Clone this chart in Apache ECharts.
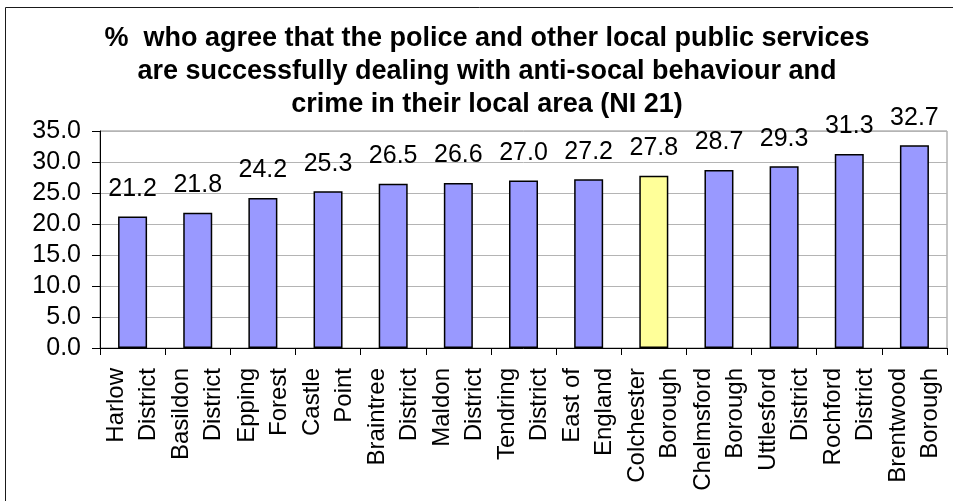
<!DOCTYPE html>
<html>
<head>
<meta charset="utf-8">
<script src="https://cdn.jsdelivr.net/npm/echarts@6/dist/echarts.min.js"></script>
<style>
  html, body { margin: 0; padding: 0; background: #fff; }
  #chart { width: 953px; height: 501px; }
</style>
</head>
<body>
<div id="chart"></div>
<script>
// Areas, ordered by score
const categories = [
  'Harlow\nDistrict', 'Basildon\nDistrict', 'Epping\nForest', 'Castle\nPoint',
  'Braintree\nDistrict', 'Maldon\nDistrict', 'Tendring\nDistrict', 'East of\nEngland',
  'Colchester\nBorough', 'Chelmsford\nBorough', 'Uttlesford\nDistrict',
  'Rochford\nDistrict', 'Brentwood\nBorough'
];
// % who agree (NI 21)
const values = [21.2, 21.8, 24.2, 25.3, 26.5, 26.6, 27.0, 27.2, 27.8, 28.7, 29.3, 31.3, 32.7];
// Area shown in the highlight colour
const highlighted = ['Colchester\nBorough'];
// Value axis ticks
const yTicks = [0, 5, 10, 15, 20, 25, 30, 35];

const titleText = '%  who agree that the police and other local public services\n' +
  'are successfully dealing with anti-socal behaviour and\n' +
  'crime in their local area (NI 21)';

const FONT = '"Liberation Sans", Arial, sans-serif';
const BAR = '#9999ff';
const HIGHLIGHT = '#ffff99';

const chart = echarts.init(document.getElementById('chart'), null, { renderer: 'canvas' });

chart.setOption({
  animation: false,
  backgroundColor: '#ffffff',
  graphic: [{
    // chart title, centred over the chart
    type: 'text',
    silent: true,
    x: 487,
    y: 22,
    style: {
      text: titleText,
      align: 'center',
      verticalAlign: 'top',
      fontFamily: FONT,
      fontWeight: 'bold',
      fontSize: 27,
      lineHeight: 33,
      fill: '#000'
    }
  }, {
    // outer frame
    type: 'rect',
    silent: true,
    shape: { x: 5.5, y: 7.5, width: 960, height: 510 },
    style: { fill: 'none', stroke: '#1a1a1a', lineWidth: 1 },
    z: 100
  }],
  grid: {
    left: 100,
    right: 6,
    top: 131,
    bottom: 153,
    show: true,
    borderColor: '#8c8c8c',
    borderWidth: 1,
    backgroundColor: 'transparent'
  },
  xAxis: {
    type: 'category',
    data: categories,
    boundaryGap: true,
    axisLine: { show: true, lineStyle: { color: '#000', width: 1 } },
    axisTick: { show: true, length: 7, lineStyle: { color: '#000' } },
    axisLabel: {
      interval: 0,
      rotate: 90,
      margin: 20,
      fontFamily: FONT,
      fontSize: 24,
      lineHeight: 32,
      color: '#000'
    },
    splitLine: { show: false }
  },
  yAxis: {
    type: 'value',
    min: yTicks[0],
    max: yTicks[yTicks.length - 1],
    interval: yTicks[1] - yTicks[0],
    axisLine: { show: true, lineStyle: { color: '#000', width: 1 } },
    axisTick: { show: true, length: 8, lineStyle: { color: '#000' } },
    axisLabel: {
      margin: 19,
      fontFamily: FONT,
      fontSize: 25,
      color: '#000',
      formatter: v => v.toFixed(1)
    },
    splitLine: { show: true, lineStyle: { color: '#b4b4b4', width: 1 } }
  },
  series: [{
    type: 'bar',
    barWidth: 29,
    data: values.map((v, i) => ({
      value: v,
      itemStyle: {
        color: highlighted.includes(categories[i]) ? HIGHLIGHT : BAR
      }
    })),
    itemStyle: { borderColor: '#000', borderWidth: 1.5 },
    label: {
      show: true,
      position: 'top',
      distance: 15,
      fontFamily: FONT,
      fontSize: 25,
      color: '#000',
      formatter: p => p.value.toFixed(1)
    }
  }]
});
</script>
</body>
</html>
